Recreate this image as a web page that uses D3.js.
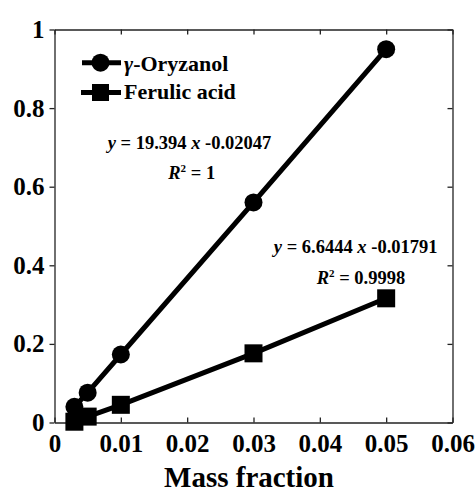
<!DOCTYPE html>
<html><head><meta charset="utf-8">
<script src="https://cdn.jsdelivr.net/npm/d3@7"></script>
<style>body{margin:0;background:#fff}svg{display:block}text{font-family:"Liberation Serif","Times New Roman",serif;font-weight:bold}</style>
</head><body>
<script>
const massFraction = [0.003, 0.005, 0.01, 0.03, 0.05];
const oryzanol = [0.04, 0.076, 0.173, 0.56, 0.95];
const ferulic = [0.002, 0.015, 0.045, 0.176, 0.316];
const seriesNames = ["γ-Oryzanol", "Ferulic acid"];
const xTicks = [0, 0.01, 0.02, 0.03, 0.04, 0.05, 0.06];
const yTicks = [0, 0.2, 0.4, 0.6, 0.8, 1];

const W = 476, H = 493;
const m = {l: 54.5, r: 23.5, t: 29.5, b: 70.5};
const svg = d3.select("body").append("svg").attr("width", W).attr("height", H);
const x = d3.scaleLinear().domain([0, 0.06]).range([m.l, W - m.r]);
const y = d3.scaleLinear().domain([0, 1]).range([H - m.b, m.t]);
const fmt = d => d === 0 ? "0" : String(d);

// axes
const gx = svg.append("g").attr("transform", `translate(0,${y(0)})`)
  .call(d3.axisBottom(x).tickValues(xTicks).tickFormat(fmt).tickSizeInner(-5).tickSizeOuter(0).tickPadding(12));
const gxt = svg.append("g").attr("transform", `translate(0,${y(1)})`)
  .call(d3.axisTop(x).tickValues(xTicks).tickFormat("").tickSizeInner(-5).tickSizeOuter(0));
const gy = svg.append("g").attr("transform", `translate(${x(0)},0)`)
  .call(d3.axisLeft(y).tickValues(yTicks).tickFormat(fmt).tickSize(5).tickSizeOuter(0).tickPadding(5));
const gyr = svg.append("g").attr("transform", `translate(${x(0.06)},0)`)
  .call(d3.axisRight(y).tickValues(yTicks).tickFormat("").tickSizeInner(-5).tickSizeOuter(0));
[gx, gxt, gy, gyr].forEach(g => {
  g.attr("font-family", null).attr("font-size", null);
  g.selectAll("path,line").attr("stroke", "#222").attr("stroke-width", 1.3);
  g.selectAll("text").attr("fill", "#000").style("font-size", "25px").style("font-family", '"Liberation Serif",serif').style("font-weight", "bold");
});

// x label
svg.append("text").attr("x", 249).attr("y", 486.5).attr("text-anchor", "middle")
  .style("font-size", "29px").text("Mass fraction");

// series
const line = d3.line().x(d => x(d[0])).y(d => y(d[1]));
const d1 = massFraction.map((v, i) => [v, oryzanol[i]]);
const d2 = massFraction.map((v, i) => [v, ferulic[i]]);
svg.append("path").attr("d", line(d1)).attr("fill", "none").attr("stroke", "#000").attr("stroke-width", 5);
svg.append("path").attr("d", line(d2)).attr("fill", "none").attr("stroke", "#000").attr("stroke-width", 5);
svg.selectAll("circle.o").data(d1).join("circle").attr("cx", d => x(d[0])).attr("cy", d => y(d[1])).attr("r", 9).attr("fill", "#000");
const s = 18;
svg.selectAll("rect.f").data(d2).join("rect").attr("x", d => x(d[0]) - s/2).attr("y", d => y(d[1]) - s/2).attr("width", s).attr("height", s).attr("fill", "#000");

// legend
const lg = svg.append("g");
lg.append("line").attr("x1", 82).attr("x2", 121).attr("y1", 62.7).attr("y2", 62.7).attr("stroke", "#000").attr("stroke-width", 5);
lg.append("circle").attr("cx", 100.5).attr("cy", 62.7).attr("r", 9).attr("fill", "#000");
lg.append("line").attr("x1", 81).attr("x2", 121).attr("y1", 92.5).attr("y2", 92.5).attr("stroke", "#000").attr("stroke-width", 5);
lg.append("rect").attr("x", 92).attr("y", 84).attr("width", 17).attr("height", 17).attr("fill", "#000");
const t1 = lg.append("text").attr("x", 124).attr("y", 71).style("font-size", "22px");
t1.append("tspan").style("font-style", "italic").text("γ");
t1.append("tspan").text(seriesNames[0].slice(1));
lg.append("text").attr("x", 124).attr("y", 98.5).style("font-size", "22px").text(seriesNames[1]);

// equations
function eq(cx, cyy, slope, icpt) {
  const t = svg.append("text").attr("x", cx).attr("y", cyy).attr("text-anchor", "middle").style("font-size", "18.5px");
  t.append("tspan").style("font-style", "italic").text("y");
  t.append("tspan").text(` = ${slope} `);
  t.append("tspan").style("font-style", "italic").text("x");
  t.append("tspan").text(` ${icpt}`);
}
function r2(cx, cyy, val) {
  const t = svg.append("text").attr("x", cx).attr("y", cyy).attr("text-anchor", "middle").style("font-size", "18.5px");
  t.append("tspan").style("font-style", "italic").text("R");
  t.append("tspan").attr("dy", -7).style("font-size", "11px").text("2");
  t.append("tspan").attr("dy", 7).text(` = ${val}`);
}
eq(189.5, 149.3, "19.394", "-0.02047");
r2(191.7, 179.3, "1");
eq(355.7, 253.3, "6.6444", "-0.01791");
r2(361, 284.3, "0.9998");
</script>
</body></html>
